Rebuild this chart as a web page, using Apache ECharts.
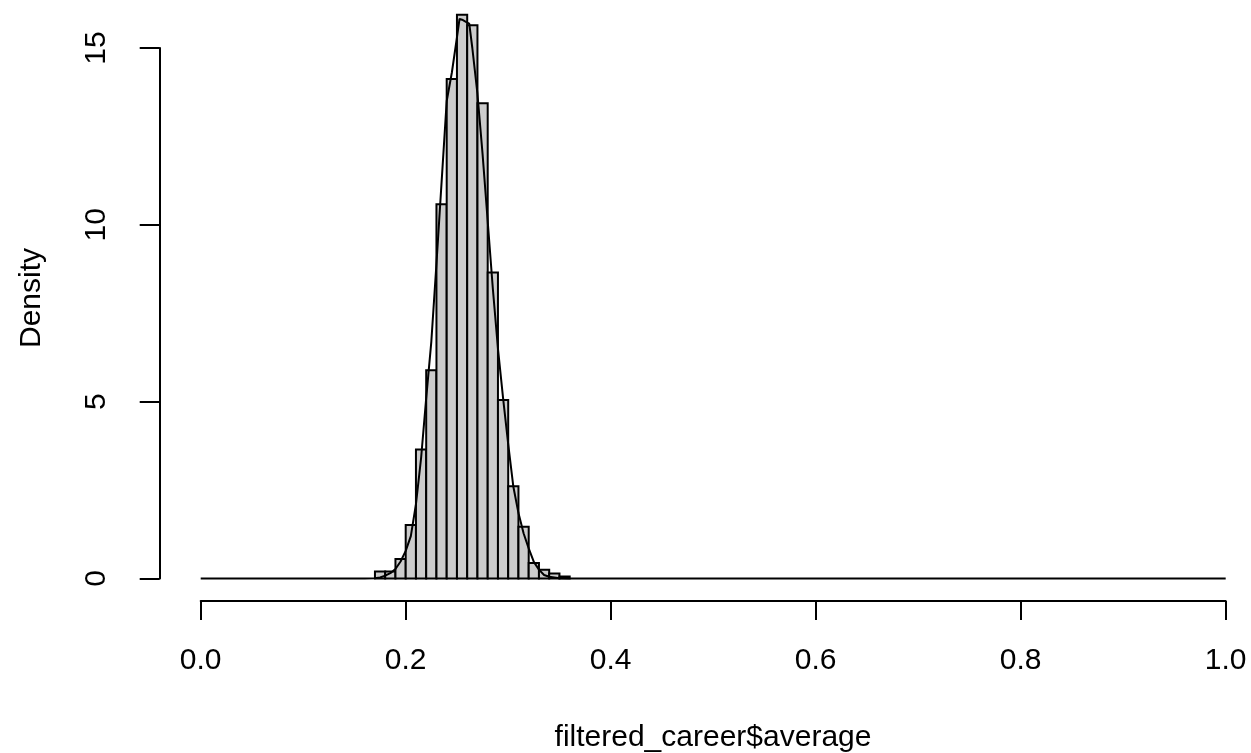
<!DOCTYPE html>
<html>
<head>
<meta charset="utf-8">
<script src="https://cdn.jsdelivr.net/npm/echarts@6/dist/echarts.min.js"></script>
<style>
html,body{margin:0;padding:0;background:#fff;}
#chart{width:1251px;height:753px;}
</style>
</head>
<body>
<div id="chart"></div>
<script>
// Histogram bins (left edges, width 0.01) and density heights
var binStarts = [0.17,0.18,0.19,0.20,0.21,0.22,0.23,0.24,0.25,0.26,0.27,0.28,0.29,0.30,0.31,0.32,0.33,0.34,0.35];
var binDensity = [0.2,0.2,0.55,1.51,3.65,5.89,10.58,14.12,15.94,15.64,13.44,8.65,5.05,2.61,1.46,0.44,0.25,0.14,0.06];
var binWidth = 0.01;

// Kernel density curve (x, density)
var curveX = [0.0,0.16,0.170,0.175,0.180,0.185,0.190,0.195,0.200,0.205,0.210,0.215,0.220,0.225,0.230,0.235,0.240,0.245,0.250,0.2525,0.255,0.260,0.262,0.265,0.270,0.275,0.280,0.285,0.290,0.295,0.300,0.305,0.310,0.315,0.320,0.325,0.330,0.335,0.340,0.350,0.360,1.0];
var curveY = [0,0,0.01,0.03,0.08,0.15,0.27,0.48,0.78,1.2,2.1,3.4,5.1,6.7,8.9,11.2,13.5,14.3,15.3,15.82,15.8,15.72,15.69,15.0,13.7,12.0,10.1,8.2,6.5,5.1,3.8,2.6,1.85,1.28,0.85,0.47,0.25,0.1,0.05,0.01,0,0];

var xTicks = [0.0,0.2,0.4,0.6,0.8,1.0];
var yTicks = [0,5,10,15];
var xTitle = 'filtered_career$average';
var yTitle = 'Density';

var FONT = '"Liberation Sans", Arial, Helvetica, sans-serif';

var chart = echarts.init(document.getElementById('chart'), null, {renderer:'canvas'});

var barData = binStarts.map(function(s,i){ return [s, s+binWidth, binDensity[i]]; });
var lineData = curveX.map(function(x,i){ return [x, curveY[i]]; });

var option = {
  backgroundColor:'#ffffff',
  animation:false,
  grid:{left:200.7, right:25.3, top:48, bottom:174.5, containLabel:false},
  xAxis:{
    type:'value', min:xTicks[0], max:xTicks[xTicks.length-1], interval:0.2,
    offset:22.5,
    axisLine:{show:true, onZero:false, lineStyle:{color:'#000', width:2}},
    axisTick:{show:true, length:19, lineStyle:{color:'#000', width:2}},
    axisLabel:{show:true, margin:45, fontSize:30, color:'#000', fontFamily:FONT,
      formatter:function(v){ return v.toFixed(1); }},
    splitLine:{show:false}
  },
  yAxis:{
    type:'value', min:yTicks[0], max:yTicks[yTicks.length-1], interval:5,
    offset:41,
    axisLine:{show:true, onZero:false, lineStyle:{color:'#000', width:2}},
    axisTick:{show:true, length:20, lineStyle:{color:'#000', width:2}},
    axisLabel:{show:true, rotate:90, margin:48, fontSize:30, color:'#000', fontFamily:FONT, align:'center', verticalAlign:'bottom'},
    splitLine:{show:false}
  },
  graphic:[
    {type:'text', x:713, y:738, style:{text:xTitle, fill:'#000', font:'30px ' + FONT, textAlign:'center', textVerticalAlign:'middle'}},
    {type:'text', rotation:Math.PI/2, x:32, y:298, style:{text:yTitle, fill:'#000', font:'30px ' + FONT, textAlign:'center', textVerticalAlign:'middle'}}
  ],
  series:[
    {
      type:'custom', clip:false,
      renderItem:function(params, api){
        var p0 = api.coord([api.value(0), 0]);
        var p1 = api.coord([api.value(1), api.value(2)]);
        return {type:'rect', shape:{x:p0[0], y:p1[1], width:p1[0]-p0[0], height:p0[1]-p1[1]},
          style:{fill:'#cccccc', stroke:'#000', lineWidth:2}};
      },
      encode:{x:[0,1], y:2},
      data:barData, z:2
    },
    {
      type:'line', clip:false, data:lineData, showSymbol:false, symbol:'none', smooth:false,
      lineStyle:{color:'#000', width:2}, z:3
    }
  ]
};
chart.setOption(option);
</script>
</body>
</html>
